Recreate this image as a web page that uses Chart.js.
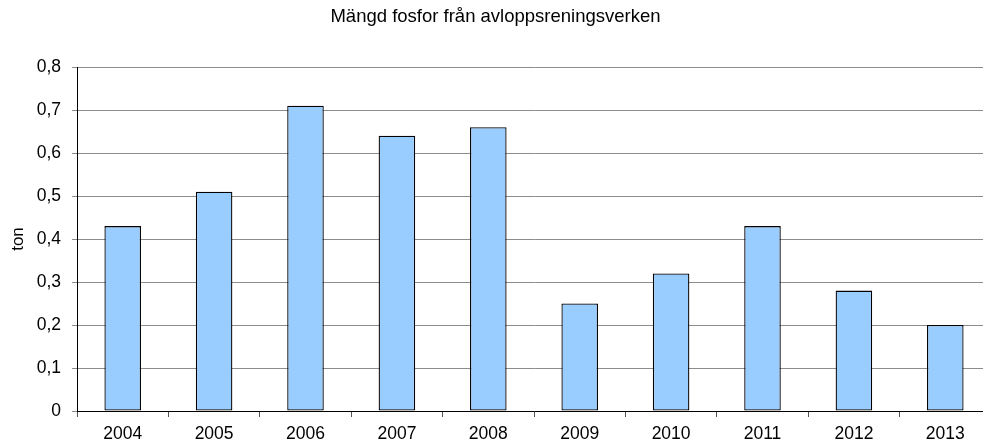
<!DOCTYPE html>
<html>
<head>
<meta charset="utf-8">
<script src="https://cdn.jsdelivr.net/npm/chart.js@4"></script>
<style>
html,body{margin:0;padding:0;background:#fff;overflow:hidden;}
#wrap{width:983px;height:443px;position:relative;overflow:hidden;}
canvas{display:block;}
</style>
</head>
<body>
<div id="wrap"><canvas id="c" width="1009" height="443"></canvas></div>
<script>
const categories = ['2004','2005','2006','2007','2008','2009','2010','2011','2012','2013'];
const values = [0.43, 0.51, 0.71, 0.64, 0.66, 0.25, 0.32, 0.43, 0.28, 0.20];
const yTicks = [0, 0.1, 0.2, 0.3, 0.4, 0.5, 0.6, 0.7, 0.8];
const titleText = 'Mängd fosfor från avloppsreningsverken';
const yLabel = 'ton';

const FONT = "'Liberation Sans', Arial, sans-serif";

new Chart(document.getElementById('c'), {
  type: 'bar',
  data: {
    labels: categories,
    datasets: [{
      data: values,
      backgroundColor: '#99CCFF',
      borderColor: '#000000',
      borderWidth: 1.3,
      borderSkipped: false,
      barPercentage: 0.4,
      categoryPercentage: 1.0
    }]
  },
  options: {
    responsive: false,
    animation: false,
    layout: { padding: { left: 0, right: 18, top: 0, bottom: 0 } },
    plugins: {
      legend: { display: false },
      tooltip: { enabled: false },
      title: {
        display: true,
        text: titleText,
        color: '#000',
        font: { family: FONT, size: 18.5, weight: 'normal' },
        padding: { top: 6, bottom: 38.8 }
      }
    },
    scales: {
      x: {
        offset: true,
        grid: {
          offset: true,
          drawOnChartArea: false,
          drawTicks: true,
          tickLength: 6,
          color: '#555'
        },
        border: { color: '#000', width: 1 },
        ticks: {
          color: '#000',
          font: { family: FONT, size: 17.5 },
          padding: 7,
          maxRotation: 0
        },
        afterFit: (s) => { s.height = 32; }
      },
      y: {
        min: 0,
        max: 0.8,
        afterBuildTicks: (s) => { s.ticks = yTicks.map(v => ({ value: v })); },
        grid: {
          color: '#8c8c8c',
          lineWidth: 1,
          drawTicks: true,
          tickLength: 5
        },
        border: { color: '#000', width: 1 },
        ticks: {
          color: '#000',
          font: { family: FONT, size: 17.5 },
          padding: 11,
          callback: (v) => (v === 0 ? '0' : Number(v).toFixed(1).replace('.', ','))
        },
        title: {
          display: true,
          text: yLabel,
          color: '#000',
          font: { family: FONT, size: 17 },
          padding: { top: 8, bottom: 0 }
        },
        afterFit: (s) => { s.width = 77; }
      }
    }
  }
});
</script>
</body>
</html>
